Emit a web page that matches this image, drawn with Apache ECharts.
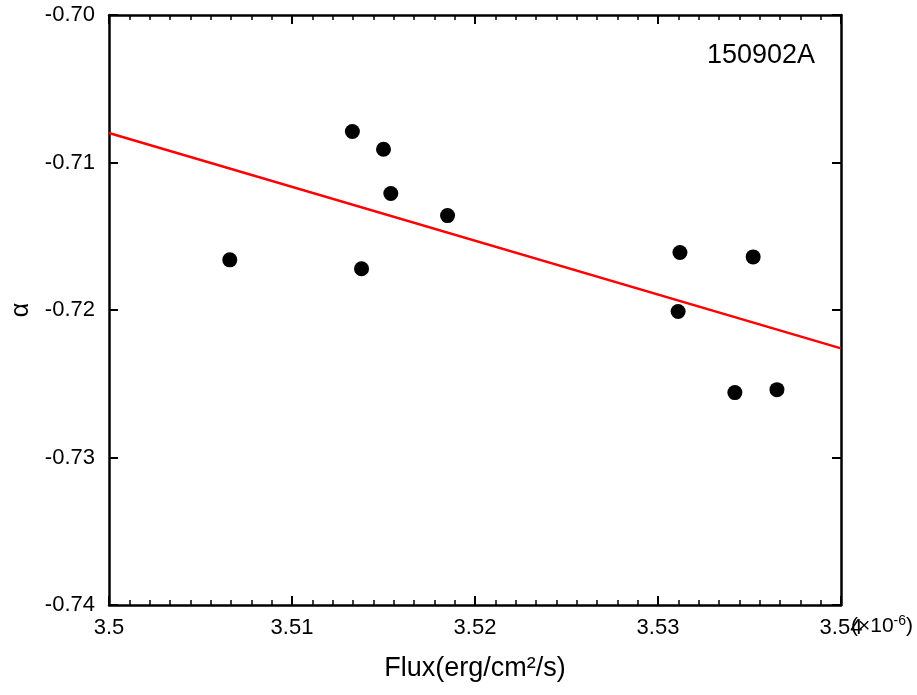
<!DOCTYPE html>
<html>
<head>
<meta charset="utf-8">
<script src="https://cdn.jsdelivr.net/npm/echarts@6/dist/echarts.min.js"></script>
<style>
html, body { margin: 0; padding: 0; background: #fff; }
#main { width: 917px; height: 695px; }
</style>
</head>
<body>
<div id="main"></div>
<script>
// 数据 (flux in units of 1e-6 erg/cm2/s)
var fluxData = [3.5066, 3.5133, 3.5150, 3.5154, 3.5138, 3.5185, 3.5312, 3.5311, 3.5352, 3.5342, 3.5365];
var alphaData = [-0.7166, -0.7079, -0.7091, -0.7121, -0.7172, -0.7136, -0.7161, -0.7201, -0.7164, -0.7256, -0.7254];
// 拟合直线
var fitX = [3.50, 3.54];
var fitY = [-0.7080, -0.7226];
var xTickLabels = ['3.5', '3.51', '3.52', '3.53', '3.54'];
var yTickLabels = ['-0.74', '-0.73', '-0.72', '-0.71', '-0.70'];

var chart = echarts.init(document.getElementById('main'));

var points = fluxData.map(function (x, i) { return [x, alphaData[i]]; });
var fitLine = fitX.map(function (x, i) { return [x, fitY[i]]; });

var fontFam = 'Liberation Sans, Arial, sans-serif';
var axisLine = { show: true, onZero: false, lineStyle: { color: '#000', width: 2.5 } };
var majorTick = { inside: true, length: 9, lineStyle: { color: '#000', width: 2 } };
var minorTick = { show: true, splitNumber: 9, length: 5, lineStyle: { color: '#000', width: 1.5 } };

var option = {
    animation: false,
    title: {
        text: '150902A',
        left: 702,
        top: 37,
        textStyle: { fontFamily: fontFam, fontSize: 27, fontWeight: 'normal', color: '#000' }
    },
    grid: { left: 109, right: 76, top: 15, bottom: 90 },
    xAxis: [{
        type: 'value',
        position: 'bottom',
        min: 3.50, max: 3.54, interval: 0.01,
        name: 'Flux(erg/cm²/s)',
        nameLocation: 'middle',
        nameGap: 50,
        nameTextStyle: { fontFamily: fontFam, fontSize: 27, color: '#000' },
        axisLine: axisLine,
        axisTick: majorTick,
        minorTick: minorTick,
        axisLabel: {
            margin: 12, fontFamily: fontFam, fontSize: 22, color: '#000',
            formatter: function (v) { return xTickLabels[Math.round((v - 3.5) / 0.01)]; }
        },
        splitLine: { show: false }
    }, {
        type: 'value',
        position: 'top',
        min: 3.50, max: 3.54, interval: 0.01,
        axisLine: axisLine,
        axisTick: majorTick,
        minorTick: minorTick,
        axisLabel: { show: false },
        splitLine: { show: false }
    }],
    yAxis: [{
        type: 'value',
        position: 'left',
        min: -0.74, max: -0.70, interval: 0.01,
        name: 'α',
        nameLocation: 'middle',
        nameGap: 75,
        nameMoveOverlap: false,
        nameTextStyle: { fontFamily: fontFam, fontSize: 25, color: '#000' },
        axisLine: axisLine,
        axisTick: majorTick,
        axisLabel: {
            margin: 14, fontFamily: fontFam, fontSize: 22, color: '#000',
            formatter: function (v) { return yTickLabels[Math.round((v + 0.74) / 0.01)]; }
        },
        splitLine: { show: false }
    }, {
        type: 'value',
        position: 'right',
        min: -0.74, max: -0.70, interval: 0.01,
        axisLine: axisLine,
        axisTick: majorTick,
        axisLabel: { show: false },
        splitLine: { show: false }
    }],
    graphic: [{
        type: 'text',
        left: 851,
        top: 614,
        style: {
            text: '{a|(×10}{b|-6}{a|)}',
            rich: {
                a: { fontFamily: fontFam, fontSize: 21, fill: '#000', color: '#000' },
                b: { fontFamily: fontFam, fontSize: 14, fill: '#000', color: '#000', padding: [0, 0, 10, 0] }
            }
        }
    }],
    series: [{
        name: 'fit',
        type: 'line',
        data: fitLine,
        symbol: 'none',
        lineStyle: { color: '#ff0000', width: 2.5 },
        z: 2
    }, {
        name: 'data',
        type: 'scatter',
        data: points,
        symbol: 'circle',
        symbolSize: 15,
        itemStyle: { color: '#000', opacity: 1 },
        z: 3
    }]
};

chart.setOption(option);
</script>
</body>
</html>
